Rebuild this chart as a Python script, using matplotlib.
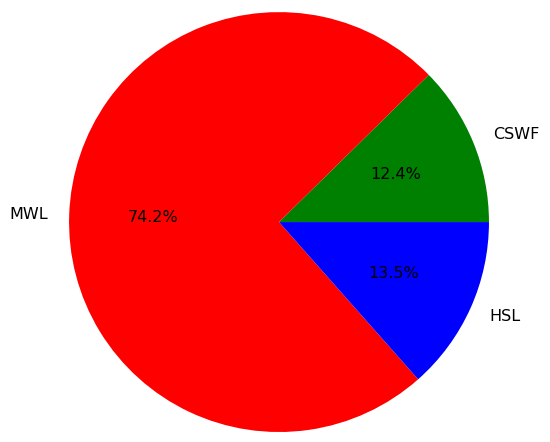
import matplotlib
matplotlib.use("Agg")
import matplotlib.pyplot as plt

labels = ["CSWF", "MWL", "HSL"]
shares = [12.36, 74.17, 13.47]
colors = ["green", "red", "blue"]

fig = plt.figure(figsize=(5.5, 4.42), dpi=100)
ax = fig.add_axes([0.1255, 0.0226, 0.7636, 0.950])

ax.pie(shares, labels=labels, colors=colors, autopct="%1.1f%%",
       startangle=0, textprops={"fontsize": 11.5})
ax.set_aspect("equal")
ax.set_xlim(-1, 1)
ax.set_ylim(-1, 1)

fig.savefig("out.png", dpi=100)
